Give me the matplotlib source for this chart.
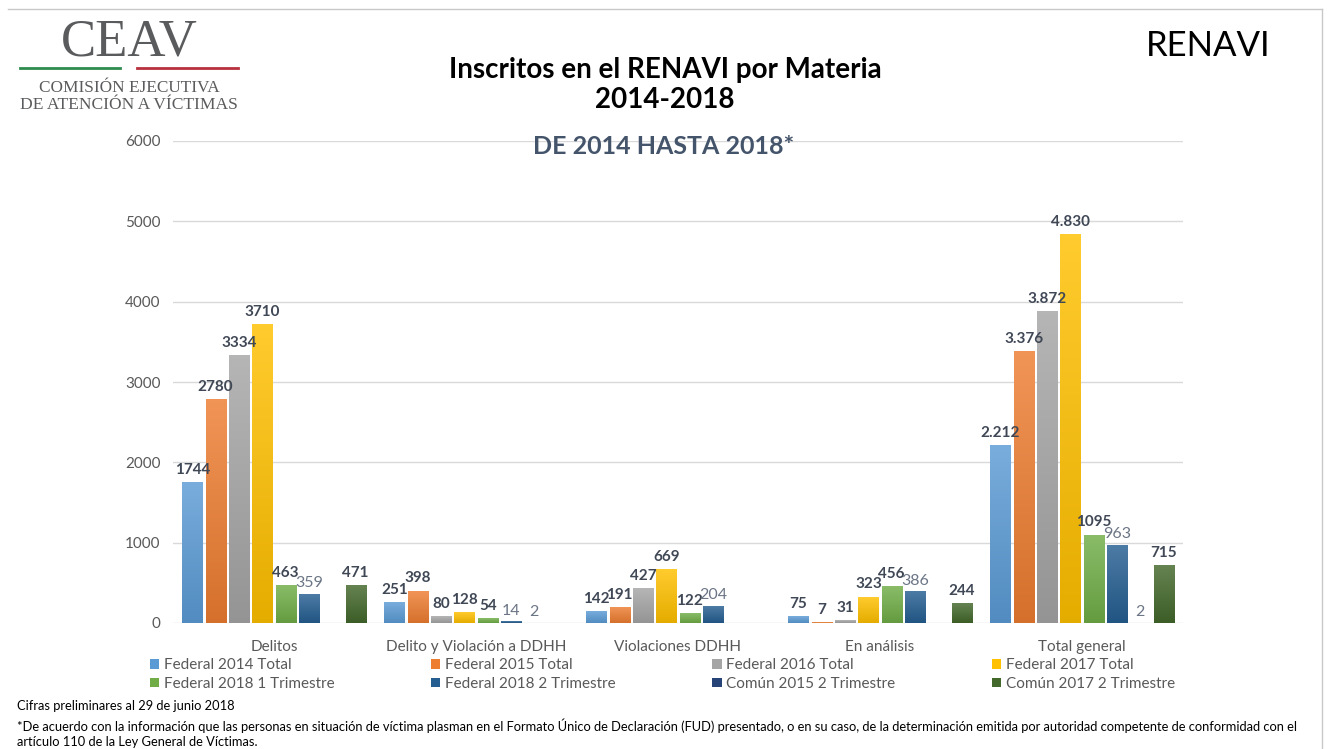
import numpy as np
import matplotlib.pyplot as plt
import matplotlib.colors as mcolors
from matplotlib.lines import Line2D

plt.rcParams['font.family'] = ['Lato', 'DejaVu Sans']

categories = ['Delitos', 'Delito y Violación a DDHH', 'Violaciones DDHH', 'En análisis', 'Total general']
series = ['Federal 2014 Total', 'Federal 2015 Total', 'Federal 2016 Total', 'Federal 2017 Total',
          'Federal 2018 1 Trimestre', 'Federal 2018 2 Trimestre', 'Común 2015 2 Trimestre', 'Común 2017 2 Trimestre']

fed_2014 = [1744, 251, 142, 75, 2212]
fed_2015 = [2780, 398, 191, 7, 3376]
fed_2016 = [3334, 80, 427, 31, 3872]
fed_2017 = [3710, 128, 669, 323, 4830]
fed_2018_t1 = [463, 54, 122, 456, 1095]
fed_2018_t2 = [359, 14, 204, 386, 963]
comun_2015_t2 = [np.nan, 2, np.nan, np.nan, 2]
comun_2017_t2 = [471, np.nan, np.nan, 244, 715]

values = [fed_2014, fed_2015, fed_2016, fed_2017, fed_2018_t1, fed_2018_t2, comun_2015_t2, comun_2017_t2]
colors = ['#5B9BD5', '#ED7D31', '#A5A5A5', '#FFC000', '#70AD47', '#255E91', '#264478', '#43682B']
# series whose labels are drawn light, not bold
light_labels = [5, 6]

fig = plt.figure(figsize=(13.29, 7.49), dpi=100)
ax = fig.add_axes([173/1329, 1-623/749, (1183-173)/1329, (623-141)/749])

x = np.arange(len(categories))
slot = 0.1155
width = 0.1
bars = []
for i, (vals, col) in enumerate(zip(values, colors)):
    pos = x + (i - 3.5) * slot
    b = ax.bar(pos, np.nan_to_num(vals), width, color=col, label=series[i], zorder=2, linewidth=0)
    bars.append(b)
    base = np.array(mcolors.to_rgb(col))
    top = base + (1 - base) * 0.18
    bot = base * 0.9
    grad = np.linspace(top, bot, 64).reshape(64, 1, 3)
    for p, v in zip(b.patches, vals):
        if np.isnan(v) or v <= 5:
            continue
        ax.imshow(grad, extent=[p.get_x(), p.get_x() + p.get_width(), 0, p.get_height()],
                  aspect='auto', zorder=3, interpolation='bilinear')
    for j, (px, v) in enumerate(zip(pos, vals)):
        if np.isnan(v):
            continue
        if j == 4 and i < 4:
            txt = f'{v:,}'.replace(',', '.')
        else:
            txt = str(v)
        if i in light_labels:
            ax.annotate(txt, (px, v), xytext=(0, 3), textcoords='offset points', ha='center', va='bottom',
                        fontsize=11.5, color='#6B7585', zorder=4)
        else:
            ax.annotate(txt, (px, v), xytext=(0, 4), textcoords='offset points', ha='center', va='bottom',
                        fontsize=11, fontweight='bold', color='#404856', zorder=4)

ax.set_xlim(-0.5, 4.5)
ax.set_ylim(0, 6000)
ax.set_yticks(range(0, 6001, 1000))
ax.set_xticks(x)
ax.set_xticklabels(categories)
ax.tick_params(axis='both', length=0, labelsize=11, colors='#595959')
ax.tick_params(axis='x', pad=12)
ax.tick_params(axis='y', pad=9)
ax.yaxis.grid(True, color='#D9D9D9', linewidth=1, zorder=0)
ax.set_axisbelow(True)
for s in ax.spines.values():
    s.set_visible(False)

order = [0, 4, 1, 5, 2, 6, 3, 7]
fig.legend([bars[k] for k in order], [series[k] for k in order], ncol=4, mode='expand',
           bbox_to_anchor=(150/1329, 1-691/749, (1175-150)/1329, 42/749), loc='lower left',
           frameon=False, fontsize=11, labelcolor='#595959', handlelength=0.6, handleheight=0.6,
           handletextpad=0.3, labelspacing=0.3, borderpad=0, borderaxespad=0)

# titles
fig.text(665/1329, 1-70/749, 'Inscritos en el RENAVI por Materia', ha='center', va='center',
         fontsize=20, fontweight='bold', color='black')
fig.text(665/1329, 1-100/749, '2014-2018', ha='center', va='center',
         fontsize=20, fontweight='bold', color='black')
fig.text(664/1329, 1-146/749, 'DE 2014 HASTA 2018*', ha='center', va='center',
         fontsize=18, fontweight='bold', color='#44546A')
fig.text(1208/1329, 1-46/749, 'RENAVI', ha='center', va='center', fontsize=25, color='black')

# CEAV logo
fig.text(129/1329, 1-42/749, 'CEAV', ha='center', va='center', fontsize=38,
         family='Liberation Serif', color='#5A5B5D')
fig.add_artist(Line2D([20/1329, 120/1329], [1-68/749, 1-68/749], color='#2E8B4E', lw=2))
fig.add_artist(Line2D([137/1329, 238/1329], [1-68/749, 1-68/749], color='#B8303E', lw=2))
fig.text(129/1329, 1-88/749, 'COMISIÓN EJECUTIVA', ha='center', va='center', fontsize=12.4,
         family='Liberation Serif', color='#5A5B5D')
fig.text(129/1329, 1-105/749, 'DE ATENCIÓN A VÍCTIMAS', ha='center', va='center', fontsize=12.6,
         family='Liberation Serif', color='#5A5B5D')

# frame lines
fig.add_artist(Line2D([8/1329, 1322/1329], [1-9/749, 1-9/749], color='#C8C8C8', lw=1))
fig.add_artist(Line2D([1322/1329, 1322/1329], [1-9/749, 0], color='#C8C8C8', lw=1))

# footnotes
fig.text(17/1329, 1-706/749, 'Cifras preliminares al 29 de junio 2018', ha='left', va='center',
         fontsize=9.3, color='black')
fig.text(17/1329, 1-726/749, '*De acuerdo con la información que las personas en situación de víctima plasman en el '
         'Formato Único de Declaración (FUD) presentado, o en su caso, de la determinación emitida por autoridad '
         'competente de conformidad con el', ha='left', va='center', fontsize=9.3, color='black')
fig.text(17/1329, 1-742/749, 'artículo 110 de la Ley General de Víctimas.', ha='left', va='center',
         fontsize=9.3, color='black')

fig.savefig('out.png', dpi=100)
